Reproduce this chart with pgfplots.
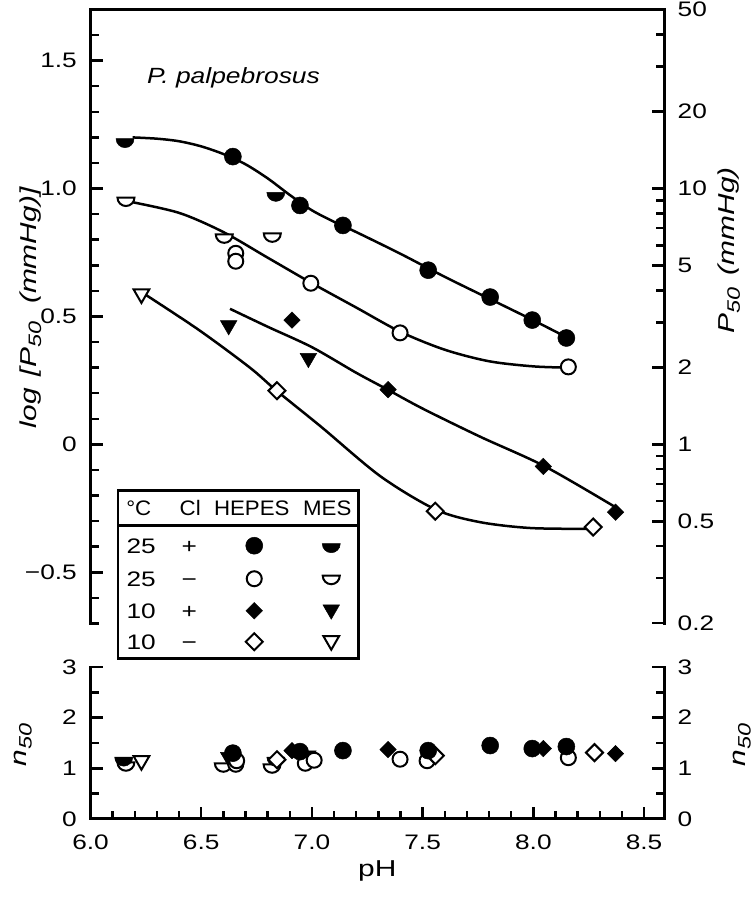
\documentclass[border=0pt]{standalone}
\usepackage{fontspec}
\setmainfont{Liberation Sans}[FakeStretch=1.06]
\newfontfamily\numfont{Liberation Sans}[FakeStretch=1.25]
\newfontfamily\labfont{Liberation Sans}[FakeStretch=1.3]
\newfontfamily\titfont{Liberation Sans}[FakeStretch=1.2]
\usepackage{pgfplots}
\pgfplotsset{compat=1.18}
\newcommand\fs{\fontsize{21}{25}\selectfont}
\newcommand\fl{\fontsize{23}{27}\selectfont\labfont}
\newcommand\sub[1]{\lower 5pt\hbox{\fontsize{18}{20}\selectfont\labfont\itshape #1}}
\pgfdeclareplotmark{halfdisc}{%
  \pgfpathmoveto{\pgfqpoint{\pgfplotmarksize}{0pt}}%
  \pgfpatharc{0}{-180}{\pgfplotmarksize}%
  \pgfpathclose
  \pgfusepathqfillstroke}
\tikzset{
 mFC/.style={mark=*, mark size=8.5pt, mark options={fill=black, draw=black, line width=0.5pt}},
 mOC/.style={mark=*, mark size=7.5pt, mark options={fill=white, draw=black, line width=2pt}},
 mFD/.style={mark=square*, mark size=5.8pt, mark options={rotate=45, fill=black, draw=black, line width=0.5pt}},
 mOD/.style={mark=square*, mark size=6pt, mark options={rotate=45, fill=white, draw=black, line width=2pt}},
 mFT/.style={mark=triangle*, mark size=9.5pt, mark options={rotate=180, fill=black, draw=black, line width=0.5pt}},
 mOT/.style={mark=triangle*, mark size=9pt, mark options={rotate=180, fill=white, draw=black, line width=2pt}},
 mFH/.style={mark=halfdisc, mark size=9pt, mark options={fill=black, draw=black, line width=0.5pt}},
 mOH/.style={mark=halfdisc, mark size=8.5pt, mark options={fill=white, draw=black, line width=2pt}},
 LT/.style={draw=none, fill=none, inner sep=0pt, anchor=base, font=\fs},
 LN/.style={draw=none, fill=none, inner sep=0pt, anchor=base, font=\fs\numfont},
}
% the legend table, drawn as one legend image
\newcommand\legtable{%
  \draw[line width=2.5pt, fill=white] (0pt,0pt) rectangle (240pt,-168pt);
  \draw[line width=2.5pt] (0pt,-35pt) -- (240pt,-35pt);
  \node[LT] at (20.5pt,-25pt) {°C};
  \node[LT] at (72pt,-25pt) {Cl};
  \node[LT] at (133.5pt,-25pt) {HEPES};
  \node[LT] at (209pt,-25pt) {MES};
  \node[LN] at (23pt,-62.5pt) {25};  \node[LN] at (71pt,-62.5pt) {+};
  \node[LN] at (23pt,-95.5pt) {25};  \node[LN] at (71pt,-95.5pt) {−};
  \node[LN] at (23pt,-127.5pt) {10}; \node[LN] at (71pt,-127.5pt) {+};
  \node[LN] at (23pt,-158.5pt) {10}; \node[LN] at (71pt,-158.5pt) {−};
  \draw[only marks, mFC] plot coordinates {(136pt,-55pt)};
  \draw[only marks, mFH] plot coordinates {(213pt,-53pt)};
  \draw[only marks, mOC] plot coordinates {(136pt,-88pt)};
  \draw[only marks, mOH] plot coordinates {(213pt,-85pt)};
  \draw[only marks, mFD] plot coordinates {(136pt,-120pt)};
  \draw[only marks, mFT] plot coordinates {(213pt,-119pt)};
  \draw[only marks, mOD] plot coordinates {(136pt,-151pt)};
  \draw[only marks, mOT] plot coordinates {(213pt,-150pt)};
}
\begin{document}
\begin{tikzpicture}
\useasboundingbox (0pt,0pt) rectangle (754pt,901pt);
\pgfplotsset{
  every axis/.append style={scale only axis, anchor=south west, tick align=inside,
    major tick length=12pt, minor tick length=8pt,
    tick style={line width=2.5pt, black},
    axis line style={line width=3pt, line cap=rect},
    ticklabel style={font=\fs\numfont, inner sep=0pt},
    label style={font=\fl},
    /pgf/number format/assume math mode=true, clip=false},
}
% ---------------- top panel, left axis (log P50) ----------------
\begin{axis}[at={(90.5pt,277.5pt)}, width=573.5pt, height=614pt,
  xmin=6, xmax=8.59, ymin=-0.7, ymax=1.7,
  axis x line*=top, axis y line*=left, xtick=\empty,
  ytick={-0.5,0,0.5,1,1.5}, yticklabels={−0.5,0,0.5,1.0,1.5},
  minor ytick={-0.7,-0.6,-0.4,-0.3,-0.2,-0.1,0.1,0.2,0.3,0.4,0.6,0.7,0.8,0.9,1.1,1.2,1.3,1.4,1.6,1.7},
  yticklabel style={xshift=-13.5pt},
  ylabel={\itshape log\kern 12pt[P\sub{50}\kern 18pt(mmHg)]},
  ylabel style={at={(rel axis cs:-0.105,0.514)}, anchor=center},
  legend style={at={(rel axis cs:0.0462,0.2207)}, anchor=north west, draw=none, fill=none,
    inner sep=0pt, outer sep=0pt},
]
% fitted curves
\addplot[black, line width=2.5pt, smooth, no marks, forget plot] coordinates {
(6.19,1.20) (6.30,1.195) (6.40,1.185) (6.50,1.165) (6.60,1.135) (6.70,1.095) (6.80,1.04) (6.90,0.975) (7.00,0.915) (7.10,0.87) (7.20,0.83) (7.40,0.745) (7.60,0.655) (7.80,0.57) (8.00,0.485) (8.17,0.41)};
\addplot[black, line width=2.5pt, smooth, no marks, forget plot] coordinates {
(6.17,0.95) (6.40,0.905) (6.60,0.83) (6.80,0.73) (7.00,0.63) (7.20,0.535) (7.40,0.44) (7.60,0.37) (7.80,0.325) (8.00,0.305) (8.16,0.30)};
\addplot[black, line width=2.5pt, smooth, no marks, forget plot] coordinates {
(6.63,0.53) (6.80,0.46) (7.00,0.38) (7.20,0.28) (7.34,0.215) (7.50,0.14) (7.76,0.03) (8.05,-0.085) (8.37,-0.245)};
\addplot[black, line width=2.5pt, smooth, no marks, forget plot] coordinates {
(6.24,0.59) (6.49,0.447) (6.72,0.30) (6.84,0.21) (7.04,0.07) (7.31,-0.125) (7.56,-0.255) (7.76,-0.304) (7.99,-0.327) (8.27,-0.33)};
% data points
\addplot[black, only marks, mFC, forget plot] coordinates {(6.643,1.125) (6.946,0.934) (7.14,0.856) (7.525,0.681) (7.805,0.576) (7.995,0.486) (8.149,0.416)};
\addplot[black, only marks, mFH, forget plot] coordinates {(6.156,1.195) (6.837,0.985)};
\addplot[black, only marks, mOC, forget plot] coordinates {(6.656,0.747) (6.656,0.716) (6.995,0.630) (7.398,0.436) (8.158,0.303)};
\addplot[black, only marks, mOH, forget plot] coordinates {(6.16,0.965) (6.604,0.821) (6.821,0.825)};
\addplot[black, only marks, mFD, forget plot] coordinates {(6.91,0.486) (7.344,0.214) (8.045,-0.086) (8.371,-0.265)};
\addplot[black, only marks, mFT, forget plot] coordinates {(6.624,0.465) (6.984,0.337)};
\addplot[black, only marks, mOD, forget plot] coordinates {(6.842,0.21) (7.557,-0.261) (8.27,-0.323)};
\addplot[black, only marks, mOT, forget plot] coordinates {(6.23,0.588)};
\node[anchor=west, inner sep=0pt, font=\fontsize{22}{26}\selectfont\titfont\itshape] at (rel axis cs:0.0985,0.888) {P. palpebrosus};
\addlegendimage{legend image code/.code={\legtable}}
\addlegendentry{\mbox{}}
\end{axis}
% ---------------- top panel, right axis (P50, log) ----------------
\begin{axis}[at={(90.5pt,277.5pt)}, width=573.5pt, height=614pt,
  xmin=6, xmax=8.59, ymode=log, ymin=0.19953, ymax=50.119,
  axis y line*=right, hide x axis,
  ytick={0.2,0.5,1,2,5,10,20,50}, yticklabels={0.2,0.5,1,2,5,10,20,50},
  minor ytick={0.3,0.4,0.6,0.7,0.8,0.9,3,4,6,7,8,9,30,40},
  yticklabel style={xshift=13.5pt},
  ylabel={\itshape P\sub{50}\kern 12pt(mmHg)},
  ylabel style={at={(rel axis cs:1.1135,0.608)}, anchor=center},
]
\end{axis}
% ---------------- bottom panel (n50) ----------------
\begin{axis}[at={(90.5pt,82pt)}, width=573.5pt, height=152pt,
  xmin=6, xmax=8.59, ymin=0, ymax=3,
  axis x line*=bottom, axis y line*=left,
  xtick={6,6.5,7,7.5,8,8.5}, xticklabels={6.0,6.5,7.0,7.5,8.0,8.5},
  minor xtick={6.1,6.2,6.3,6.4,6.6,6.7,6.8,6.9,7.1,7.2,7.3,7.4,7.6,7.7,7.8,7.9,8.1,8.2,8.3,8.4},
  xticklabel style={yshift=-16pt},
  ytick={0,1,2,3}, yticklabels={0,1,2,3}, minor ytick={0.5,1.5,2.5},
  yticklabel style={xshift=-13.5pt},
  xlabel={pH}, xlabel style={at={(rel axis cs:0.5,-0.34)}, anchor=center},
  ylabel={\itshape n\sub{50}},
  ylabel style={at={(rel axis cs:-0.1177,0.487)}, anchor=center},
]
\addplot[black, only marks, mOH, forget plot] coordinates {(6.16,1.12) (6.60,1.10) (6.82,1.08)};
\addplot[black, only marks, mFH, forget plot] coordinates {(6.15,1.22) (6.837,1.22)};
\addplot[black, only marks, mOT, forget plot] coordinates {(6.23,1.15)};
\addplot[black, only marks, mFT, forget plot] coordinates {(6.624,1.22) (6.982,1.25)};
\addplot[black, only marks, mOC, forget plot] coordinates {(6.656,1.08) (6.66,1.15) (6.97,1.10) (7.01,1.16) (7.398,1.18) (7.52,1.15) (8.158,1.21)};
\addplot[black, only marks, mOD, forget plot] coordinates {(6.842,1.17) (7.557,1.25) (8.276,1.31)};
\addplot[black, only marks, mFD, forget plot] coordinates {(6.91,1.35) (7.344,1.37) (8.045,1.39) (8.371,1.29)};
\addplot[black, only marks, mFC, forget plot] coordinates {(6.643,1.30) (6.946,1.33) (7.14,1.35) (7.525,1.35) (7.805,1.45) (7.995,1.39) (8.149,1.43)};
\end{axis}
\begin{axis}[at={(90.5pt,82pt)}, width=573.5pt, height=152pt,
  xmin=6, xmax=8.59, ymin=0, ymax=3,
  axis y line*=right, hide x axis,
  ytick={0,1,2,3}, yticklabels={0,1,2,3}, minor ytick={0.5,1.5,2.5},
  yticklabel style={xshift=13.5pt},
  ylabel={\itshape n\sub{50}},
  ylabel style={at={(rel axis cs:1.136,0.487)}, anchor=center},
]
\end{axis}
\end{tikzpicture}
\end{document}
